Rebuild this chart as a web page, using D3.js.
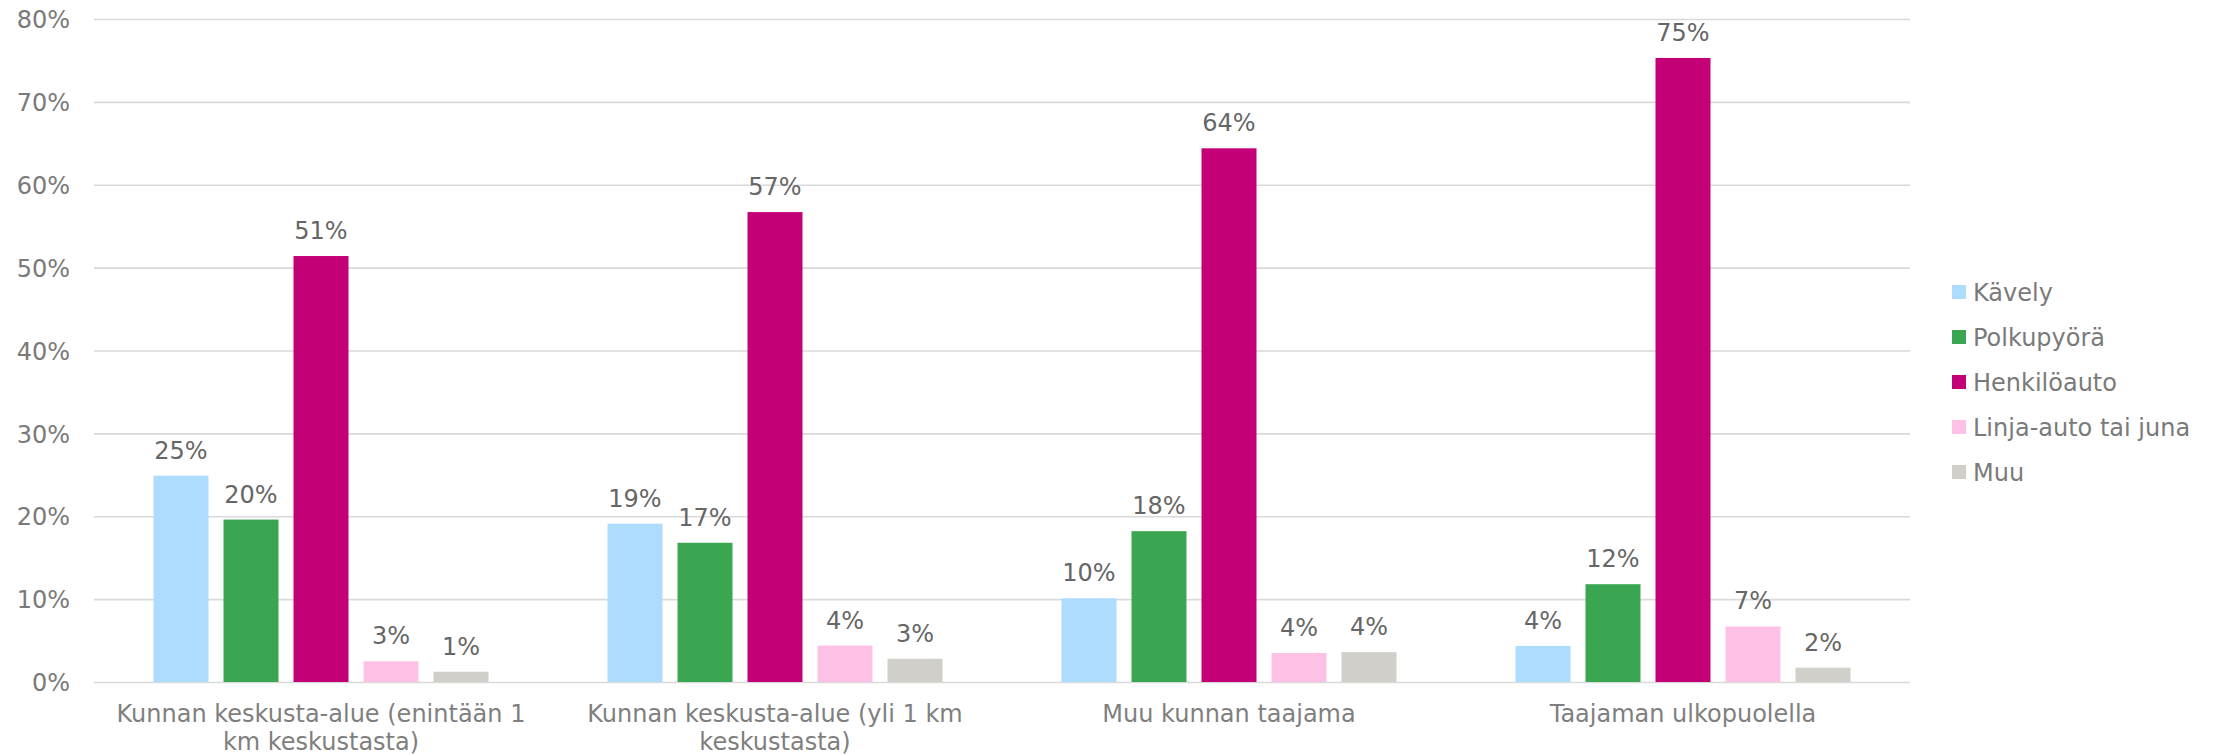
<!DOCTYPE html>
<html>
<head>
<meta charset="utf-8">
<script src="https://cdn.jsdelivr.net/npm/d3@7"></script>
<style>
  body { margin: 0; background: #fff; }
  text { font-family: "DejaVu Sans", Verdana, sans-serif; }
</style>
</head>
<body>
<svg id="chart" width="2221" height="756"></svg>
<script>
// categories (x groups) and series
const categories = [
    'Kunnan keskusta-alue (enintään 1 km keskustasta)',
    'Kunnan keskusta-alue (yli 1 km keskustasta)',
    'Muu kunnan taajama',
    'Taajaman ulkopuolella'
];
const series = ['Kävely', 'Polkupyörä', 'Henkilöauto', 'Linja-auto tai juna', 'Muu'];
const colors = ['#addcff', '#3aa651', '#c40077', '#ffc0e6', '#d0cfca'];

// values in percent, one array per series (same order as categories)
const kavely = [24.9, 19.1, 10.1, 4.35];
const polkupyora = [19.6, 16.8, 18.2, 11.8];
const henkiloauto = [51.4, 56.7, 64.4, 75.3];
const linja = [2.5, 4.4, 3.5, 6.7];
const muu = [1.24, 2.8, 3.6, 1.73];
const seriesValues = [kavely, polkupyora, henkiloauto, linja, muu];

const yTicks = [0, 10, 20, 30, 40, 50, 60, 70, 80];

const svg = d3.select('#chart');

const plotLeft = 94, plotRight = 1910, plotTop = 19, plotBottom = 682;

const x0 = d3.scaleBand().domain(categories).range([plotLeft, plotRight]);
const x1 = d3.scaleBand().domain(series).range([0, x0.bandwidth()])
    .paddingInner(0.2143).paddingOuter(0.85);
const y = d3.scaleLinear().domain([0, 80]).range([plotBottom, plotTop]);

// gridlines + tick labels
const yAxis = svg.append('g')
    .attr('transform', `translate(${plotLeft},0)`)
    .call(d3.axisLeft(y).tickValues(yTicks).tickSize(-(plotRight - plotLeft)).tickPadding(24)
        .tickFormat(d => d + '%'));
yAxis.select('.domain').remove();
yAxis.selectAll('.tick line').attr('stroke', '#d9d9d9').attr('stroke-width', 1.6);
yAxis.selectAll('.tick text')
    .attr('fill', '#7a7a7a')
    .attr('font-size', 24)
    .attr('font-family', '"DejaVu Sans", Verdana, sans-serif')
    .attr('dy', '0.36em');

// bars
const rows = [];
categories.forEach((c, ci) => {
    series.forEach((s, si) => {
        rows.push({ cat: c, ser: s, si: si, value: seriesValues[si][ci] });
    });
});

const groups = svg.append('g');

groups.selectAll('rect')
    .data(rows)
    .join('rect')
    .attr('x', d => x0(d.cat) + x1(d.ser))
    .attr('y', d => y(d.value))
    .attr('width', x1.bandwidth())
    .attr('height', d => y(0) - y(d.value))
    .attr('fill', d => colors[d.si]);

// data labels
groups.selectAll('text.lbl')
    .data(rows)
    .join('text')
    .attr('class', 'lbl')
    .attr('x', d => x0(d.cat) + x1(d.ser) + x1.bandwidth() / 2)
    .attr('y', d => y(d.value) - 17)
    .attr('text-anchor', 'middle')
    .attr('font-size', 24)
    .attr('fill', '#666666')
    .text(d => Math.round(d.value) + '%');

// category labels, wrapped like Excel does
function wrapLines(str, maxW) {
    const probe = svg.append('text').attr('font-size', 24);
    const words = str.split(' ');
    const lines = [];
    let line = '';
    words.forEach(w => {
        const test = line ? line + ' ' + w : w;
        probe.text(test);
        if (probe.node().getComputedTextLength() > maxW && line) {
            lines.push(line);
            line = w;
        } else {
            line = test;
        }
    });
    lines.push(line);
    probe.remove();
    return lines;
}

categories.forEach(c => {
    const lines = wrapLines(c, 440);
    const t = svg.append('text')
        .attr('text-anchor', 'middle')
        .attr('font-size', 24)
        .attr('fill', '#7f7f7f');
    lines.forEach((l, i) => {
        t.append('tspan')
            .attr('x', x0(c) + x0.bandwidth() / 2)
            .attr('y', 722 + i * 28)
            .text(l);
    });
});

// legend
const legend = svg.append('g').attr('transform', 'translate(1952,292)');
const item = legend.selectAll('g')
    .data(series)
    .join('g')
    .attr('transform', (d, i) => `translate(0,${i * 45})`);
item.append('rect')
    .attr('x', 0).attr('y', -7)
    .attr('width', 14).attr('height', 14)
    .attr('fill', (d, i) => colors[i]);
item.append('text')
    .attr('x', 21)
    .attr('dy', '0.36em')
    .attr('font-size', 24)
    .attr('fill', '#7a7a7a')
    .text(d => d);
</script>
</body>
</html>
